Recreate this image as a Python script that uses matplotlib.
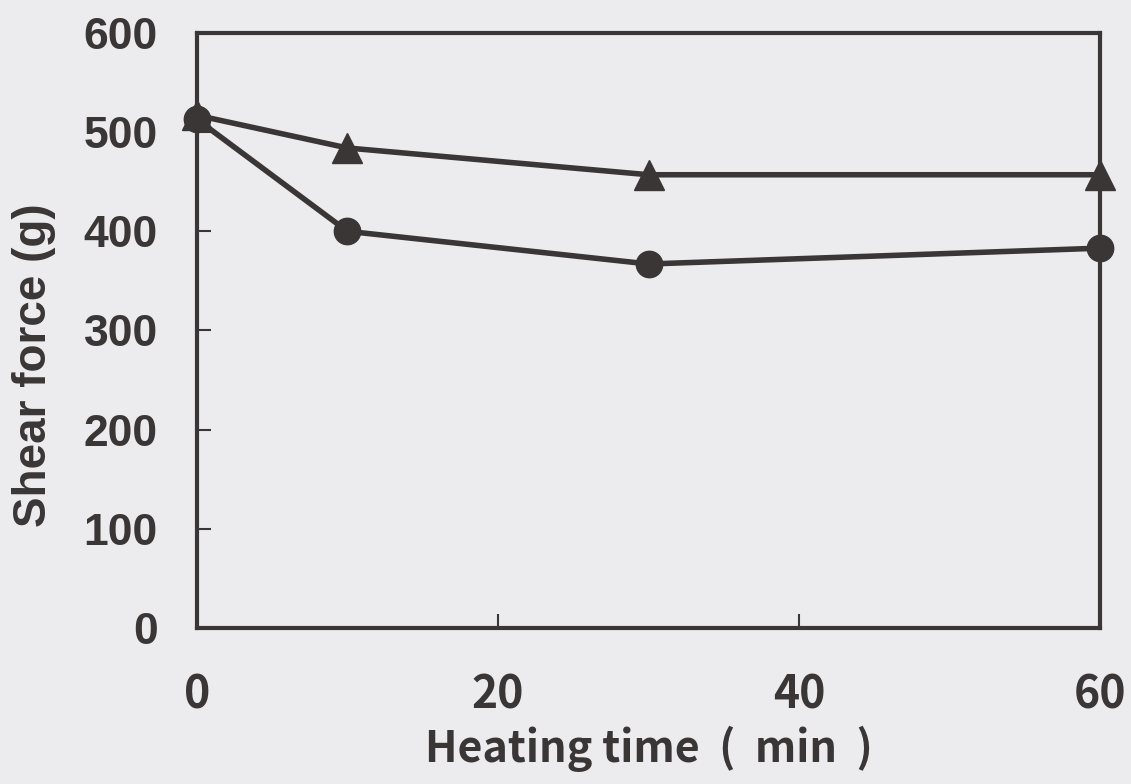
import matplotlib
matplotlib.use("Agg")
import matplotlib.pyplot as plt

# heating time (min) and shear force (g)
time_min = [0, 10, 30, 60]
force_triangle = [517, 484, 457, 457]
force_circle = [513, 400, 367, 383]
xticks = [0, 20, 40, 60]
yticks = [0, 100, 200, 300, 400, 500, 600]

ink = '#3b3636'
paper = '#ececef'

fig = plt.figure(figsize=(11.31, 7.84), dpi=100, facecolor=paper)
ax = fig.add_axes([0.174, 0.199, 0.799, 0.759])
ax.set_facecolor(paper)

ax.plot(time_min, force_triangle, color=ink, lw=4, marker='^', ms=21,
        markeredgecolor=ink, markerfacecolor=ink, clip_on=False, zorder=3)
ax.plot(time_min, force_circle, color=ink, lw=4, marker='o', ms=19,
        markeredgecolor=ink, markerfacecolor=ink, clip_on=False, zorder=4)

ax.set_xlim(0, 60)
ax.set_ylim(0, 600)
ax.set_xticks(xticks)
ax.set_yticks(yticks)

for s in ax.spines.values():
    s.set_linewidth(3.0)
    s.set_color(ink)

ax.tick_params(direction='in', length=10, width=1.5, color=ink)
ax.tick_params(axis='x', pad=32)
ax.tick_params(axis='y', pad=28)

for lab in ax.get_yticklabels():
    lab.set_family(['Liberation Sans', 'DejaVu Sans'])
    lab.set_fontsize(32)
    lab.set_fontweight('bold')
    lab.set_color(ink)
for lab in ax.get_xticklabels():
    lab.set_family(['Noto Sans CJK JP', 'DejaVu Sans'])
    lab.set_fontsize(32)
    lab.set_fontweight('bold')
    lab.set_color(ink)

ax.set_xlabel('Heating time  (  min  )', family=['Noto Sans CJK JP', 'DejaVu Sans'],
              fontsize=31, fontweight='bold', color=ink, labelpad=5)
ax.set_ylabel('Shear force (g)', family=['Liberation Sans', 'DejaVu Sans'],
              fontsize=33, fontweight='bold', color=ink)
ax.yaxis.set_label_coords(-0.156, 0.442)

fig.savefig('out.png', dpi=100, facecolor=paper)
